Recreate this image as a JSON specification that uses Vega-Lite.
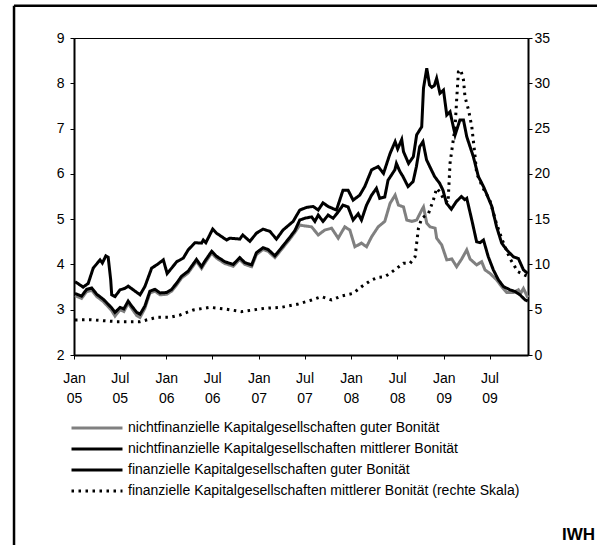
{
"$schema": "https://vega.github.io/schema/vega-lite/v6.json",
"width": 454, "height": 317,
"autosize": {"type": "none"},
"padding": {"left": 74, "top": 38, "right": 69, "bottom": 190},
"background": "white",
"title": {"text": "IWH", "orient": "bottom", "anchor": "end", "frame": "group", "fontSize": 17, "fontWeight": "bold", "font": "Liberation Sans", "color": "black", "dx": 67, "offset": -19},
"config": {
  "font": "Liberation Sans",
  "view": {"stroke": "black", "strokeWidth": 1},
  "axis": {"domainColor": "black", "domainWidth": 2, "tickColor": "black", "tickWidth": 1, "tickSize": 4, "labelFont": "Liberation Sans", "labelFontSize": 14, "labelColor": "black", "grid": false, "title": null}
},
"data": {"values": [
{"s":"G","d":"2005-01-05","v":3.31},{"s":"G","d":"2005-01-31","v":3.25},{"s":"G","d":"2005-02-20","v":3.40},{"s":"G","d":"2005-03-12","v":3.43},{"s":"G","d":"2005-04-01","v":3.29},{"s":"G","d":"2005-04-27","v":3.18},{"s":"G","d":"2005-05-30","v":2.98},{"s":"G","d":"2005-06-12","v":2.86},{"s":"G","d":"2005-07-02","v":3.00},{"s":"G","d":"2005-07-17","v":2.96},{"s":"G","d":"2005-08-03","v":3.14},{"s":"G","d":"2005-08-17","v":3.03},{"s":"G","d":"2005-09-06","v":2.87},{"s":"G","d":"2005-09-19","v":2.83},{"s":"G","d":"2005-10-08","v":3.03},{"s":"G","d":"2005-10-28","v":3.37},{"s":"G","d":"2005-11-17","v":3.41},{"s":"G","d":"2005-12-07","v":3.33},{"s":"G","d":"2006-01-02","v":3.34},{"s":"G","d":"2006-01-22","v":3.41},{"s":"G","d":"2006-02-11","v":3.55},{"s":"G","d":"2006-03-02","v":3.70},{"s":"G","d":"2006-03-28","v":3.81},{"s":"G","d":"2006-04-30","v":4.07},{"s":"G","d":"2006-05-20","v":3.91},{"s":"G","d":"2006-06-02","v":4.03},{"s":"G","d":"2006-06-29","v":4.25},{"s":"G","d":"2006-07-18","v":4.14},{"s":"G","d":"2006-08-20","v":4.02},{"s":"G","d":"2006-09-22","v":3.96},{"s":"G","d":"2006-10-18","v":4.11},{"s":"G","d":"2006-11-07","v":4.00},{"s":"G","d":"2006-12-04","v":3.95},{"s":"G","d":"2006-12-23","v":4.22},{"s":"G","d":"2007-01-18","v":4.33},{"s":"G","d":"2007-02-07","v":4.29},{"s":"G","d":"2007-03-06","v":4.15},{"s":"G","d":"2007-04-01","v":4.33},{"s":"G","d":"2007-05-04","v":4.56},{"s":"G","d":"2007-05-24","v":4.71},{"s":"G","d":"2007-06-12","v":4.87},{"s":"G","d":"2007-07-02","v":4.85},{"s":"G","d":"2007-07-29","v":4.83},{"s":"G","d":"2007-08-24","v":4.65},{"s":"G","d":"2007-09-19","v":4.76},{"s":"G","d":"2007-10-16","v":4.80},{"s":"G","d":"2007-11-11","v":4.58},{"s":"G","d":"2007-12-07","v":4.83},{"s":"G","d":"2007-12-27","v":4.76},{"s":"G","d":"2008-01-16","v":4.39},{"s":"G","d":"2008-02-11","v":4.47},{"s":"G","d":"2008-03-02","v":4.39},{"s":"G","d":"2008-03-22","v":4.61},{"s":"G","d":"2008-04-17","v":4.83},{"s":"G","d":"2008-05-13","v":4.95},{"s":"G","d":"2008-06-03","v":5.35},{"s":"G","d":"2008-06-23","v":5.53},{"s":"G","d":"2008-07-06","v":5.31},{"s":"G","d":"2008-07-26","v":5.27},{"s":"G","d":"2008-08-08","v":4.98},{"s":"G","d":"2008-08-28","v":4.95},{"s":"G","d":"2008-09-16","v":4.98},{"s":"G","d":"2008-10-06","v":5.20},{"s":"G","d":"2008-10-13","v":5.27},{"s":"G","d":"2008-10-26","v":4.91},{"s":"G","d":"2008-11-08","v":4.83},{"s":"G","d":"2008-11-28","v":4.80},{"s":"G","d":"2008-12-04","v":4.58},{"s":"G","d":"2008-12-24","v":4.43},{"s":"G","d":"2009-01-13","v":4.10},{"s":"G","d":"2009-02-02","v":4.12},{"s":"G","d":"2009-02-21","v":3.95},{"s":"G","d":"2009-03-13","v":4.12},{"s":"G","d":"2009-04-02","v":4.32},{"s":"G","d":"2009-04-15","v":4.12},{"s":"G","d":"2009-05-11","v":3.99},{"s":"G","d":"2009-05-31","v":4.06},{"s":"G","d":"2009-06-13","v":3.88},{"s":"G","d":"2009-07-03","v":3.80},{"s":"G","d":"2009-07-29","v":3.66},{"s":"G","d":"2009-08-18","v":3.51},{"s":"G","d":"2009-09-07","v":3.38},{"s":"G","d":"2009-10-03","v":3.38},{"s":"G","d":"2009-10-23","v":3.44},{"s":"G","d":"2009-11-01","v":3.36},{"s":"G","d":"2009-11-12","v":3.47},{"s":"G","d":"2009-11-29","v":3.27},
{"s":"B","d":"2005-01-05","v":3.62},{"s":"B","d":"2005-02-06","v":3.50},{"s":"B","d":"2005-02-26","v":3.58},{"s":"B","d":"2005-03-18","v":3.92},{"s":"B","d":"2005-04-14","v":4.10},{"s":"B","d":"2005-04-23","v":4.03},{"s":"B","d":"2005-05-07","v":4.19},{"s":"B","d":"2005-05-16","v":4.16},{"s":"B","d":"2005-05-26","v":3.66},{"s":"B","d":"2005-05-30","v":3.33},{"s":"B","d":"2005-06-12","v":3.29},{"s":"B","d":"2005-07-02","v":3.44},{"s":"B","d":"2005-07-21","v":3.47},{"s":"B","d":"2005-08-03","v":3.52},{"s":"B","d":"2005-08-23","v":3.44},{"s":"B","d":"2005-09-19","v":3.33},{"s":"B","d":"2005-10-08","v":3.51},{"s":"B","d":"2005-11-04","v":3.92},{"s":"B","d":"2005-11-24","v":3.99},{"s":"B","d":"2005-12-20","v":4.10},{"s":"B","d":"2006-01-04","v":3.80},{"s":"B","d":"2006-01-22","v":3.92},{"s":"B","d":"2006-02-11","v":4.06},{"s":"B","d":"2006-03-09","v":4.14},{"s":"B","d":"2006-03-28","v":4.32},{"s":"B","d":"2006-04-24","v":4.48},{"s":"B","d":"2006-05-20","v":4.47},{"s":"B","d":"2006-05-27","v":4.54},{"s":"B","d":"2006-06-06","v":4.48},{"s":"B","d":"2006-07-03","v":4.78},{"s":"B","d":"2006-07-18","v":4.69},{"s":"B","d":"2006-08-27","v":4.54},{"s":"B","d":"2006-09-09","v":4.58},{"s":"B","d":"2006-10-18","v":4.56},{"s":"B","d":"2006-10-30","v":4.65},{"s":"B","d":"2006-11-27","v":4.51},{"s":"B","d":"2006-12-23","v":4.69},{"s":"B","d":"2007-01-18","v":4.78},{"s":"B","d":"2007-02-14","v":4.73},{"s":"B","d":"2007-03-12","v":4.56},{"s":"B","d":"2007-04-07","v":4.76},{"s":"B","d":"2007-05-17","v":4.95},{"s":"B","d":"2007-06-12","v":5.20},{"s":"B","d":"2007-07-09","v":5.26},{"s":"B","d":"2007-08-04","v":5.28},{"s":"B","d":"2007-08-24","v":5.20},{"s":"B","d":"2007-09-12","v":5.36},{"s":"B","d":"2007-10-02","v":5.28},{"s":"B","d":"2007-11-04","v":5.20},{"s":"B","d":"2007-11-30","v":5.64},{"s":"B","d":"2007-12-20","v":5.64},{"s":"B","d":"2008-01-09","v":5.42},{"s":"B","d":"2008-02-04","v":5.53},{"s":"B","d":"2008-02-24","v":5.72},{"s":"B","d":"2008-03-22","v":6.09},{"s":"B","d":"2008-04-17","v":6.16},{"s":"B","d":"2008-05-08","v":6.01},{"s":"B","d":"2008-06-03","v":6.45},{"s":"B","d":"2008-06-23","v":6.71},{"s":"B","d":"2008-07-03","v":6.55},{"s":"B","d":"2008-07-19","v":6.76},{"s":"B","d":"2008-07-26","v":6.49},{"s":"B","d":"2008-08-15","v":6.23},{"s":"B","d":"2008-09-03","v":6.38},{"s":"B","d":"2008-09-16","v":6.86},{"s":"B","d":"2008-10-06","v":7.04},{"s":"B","d":"2008-10-13","v":7.89},{"s":"B","d":"2008-10-26","v":8.33},{"s":"B","d":"2008-11-06","v":7.96},{"s":"B","d":"2008-11-15","v":7.91},{"s":"B","d":"2008-11-25","v":7.95},{"s":"B","d":"2008-12-04","v":8.11},{"s":"B","d":"2008-12-17","v":7.78},{"s":"B","d":"2008-12-31","v":7.85},{"s":"B","d":"2009-01-13","v":7.30},{"s":"B","d":"2009-01-26","v":7.37},{"s":"B","d":"2009-02-15","v":6.86},{"s":"B","d":"2009-03-06","v":7.19},{"s":"B","d":"2009-03-20","v":7.19},{"s":"B","d":"2009-04-02","v":6.82},{"s":"B","d":"2009-04-28","v":6.38},{"s":"B","d":"2009-05-18","v":5.94},{"s":"B","d":"2009-06-07","v":5.72},{"s":"B","d":"2009-06-20","v":5.55},{"s":"B","d":"2009-07-10","v":5.28},{"s":"B","d":"2009-07-29","v":4.83},{"s":"B","d":"2009-08-18","v":4.47},{"s":"B","d":"2009-09-07","v":4.32},{"s":"B","d":"2009-10-03","v":4.17},{"s":"B","d":"2009-10-23","v":4.13},{"s":"B","d":"2009-11-12","v":3.88},{"s":"B","d":"2009-11-29","v":3.80},
{"s":"T","d":"2005-01-05","v":3.36},{"s":"T","d":"2005-01-31","v":3.30},{"s":"T","d":"2005-02-20","v":3.45},{"s":"T","d":"2005-03-12","v":3.48},{"s":"T","d":"2005-04-01","v":3.34},{"s":"T","d":"2005-04-27","v":3.23},{"s":"T","d":"2005-05-30","v":3.04},{"s":"T","d":"2005-06-12","v":2.94},{"s":"T","d":"2005-07-02","v":3.05},{"s":"T","d":"2005-07-17","v":3.02},{"s":"T","d":"2005-08-03","v":3.19},{"s":"T","d":"2005-08-17","v":3.08},{"s":"T","d":"2005-09-06","v":2.94},{"s":"T","d":"2005-09-19","v":2.90},{"s":"T","d":"2005-10-08","v":3.08},{"s":"T","d":"2005-10-28","v":3.41},{"s":"T","d":"2005-11-17","v":3.45},{"s":"T","d":"2005-12-07","v":3.37},{"s":"T","d":"2006-01-02","v":3.38},{"s":"T","d":"2006-01-22","v":3.45},{"s":"T","d":"2006-02-11","v":3.59},{"s":"T","d":"2006-03-02","v":3.74},{"s":"T","d":"2006-03-28","v":3.85},{"s":"T","d":"2006-04-30","v":4.11},{"s":"T","d":"2006-05-20","v":3.95},{"s":"T","d":"2006-06-02","v":4.07},{"s":"T","d":"2006-06-29","v":4.29},{"s":"T","d":"2006-07-18","v":4.18},{"s":"T","d":"2006-08-20","v":4.06},{"s":"T","d":"2006-09-22","v":4.00},{"s":"T","d":"2006-10-18","v":4.15},{"s":"T","d":"2006-11-07","v":4.04},{"s":"T","d":"2006-12-04","v":3.99},{"s":"T","d":"2006-12-23","v":4.26},{"s":"T","d":"2007-01-18","v":4.37},{"s":"T","d":"2007-02-07","v":4.33},{"s":"T","d":"2007-03-06","v":4.19},{"s":"T","d":"2007-04-01","v":4.37},{"s":"T","d":"2007-05-04","v":4.60},{"s":"T","d":"2007-05-24","v":4.75},{"s":"T","d":"2007-06-12","v":4.98},{"s":"T","d":"2007-07-02","v":5.02},{"s":"T","d":"2007-07-29","v":5.05},{"s":"T","d":"2007-08-11","v":4.95},{"s":"T","d":"2007-08-24","v":5.09},{"s":"T","d":"2007-09-12","v":4.95},{"s":"T","d":"2007-10-02","v":5.09},{"s":"T","d":"2007-10-22","v":5.02},{"s":"T","d":"2007-11-11","v":5.16},{"s":"T","d":"2007-11-30","v":5.31},{"s":"T","d":"2007-12-20","v":5.27},{"s":"T","d":"2008-01-09","v":4.98},{"s":"T","d":"2008-01-29","v":5.12},{"s":"T","d":"2008-02-11","v":4.98},{"s":"T","d":"2008-03-02","v":5.31},{"s":"T","d":"2008-03-22","v":5.53},{"s":"T","d":"2008-04-10","v":5.68},{"s":"T","d":"2008-04-23","v":5.46},{"s":"T","d":"2008-05-13","v":5.49},{"s":"T","d":"2008-05-26","v":5.86},{"s":"T","d":"2008-06-22","v":6.09},{"s":"T","d":"2008-06-28","v":6.23},{"s":"T","d":"2008-07-11","v":6.06},{"s":"T","d":"2008-07-24","v":5.94},{"s":"T","d":"2008-08-13","v":5.72},{"s":"T","d":"2008-09-02","v":5.83},{"s":"T","d":"2008-09-15","v":6.16},{"s":"T","d":"2008-09-28","v":6.60},{"s":"T","d":"2008-10-11","v":6.71},{"s":"T","d":"2008-10-25","v":6.31},{"s":"T","d":"2008-11-13","v":6.09},{"s":"T","d":"2008-11-26","v":5.94},{"s":"T","d":"2008-12-16","v":5.79},{"s":"T","d":"2008-12-29","v":5.64},{"s":"T","d":"2009-01-12","v":5.35},{"s":"T","d":"2009-01-31","v":5.22},{"s":"T","d":"2009-02-20","v":5.39},{"s":"T","d":"2009-03-12","v":5.50},{"s":"T","d":"2009-03-25","v":5.43},{"s":"T","d":"2009-04-02","v":5.46},{"s":"T","d":"2009-04-22","v":4.98},{"s":"T","d":"2009-05-11","v":4.50},{"s":"T","d":"2009-05-24","v":4.48},{"s":"T","d":"2009-06-07","v":4.54},{"s":"T","d":"2009-06-26","v":4.17},{"s":"T","d":"2009-07-16","v":3.88},{"s":"T","d":"2009-08-05","v":3.66},{"s":"T","d":"2009-08-25","v":3.51},{"s":"T","d":"2009-09-20","v":3.44},{"s":"T","d":"2009-10-10","v":3.40},{"s":"T","d":"2009-10-29","v":3.33},{"s":"T","d":"2009-11-18","v":3.22},{"s":"T","d":"2009-11-29","v":3.19},
{"s":"D","d":"2005-01-05","v":3.87},{"s":"D","d":"2005-03-05","v":3.90},{"s":"D","d":"2005-06-19","v":3.68},{"s":"D","d":"2005-09-19","v":3.68},{"s":"D","d":"2005-11-24","v":4.16},{"s":"D","d":"2006-01-15","v":4.16},{"s":"D","d":"2006-02-24","v":4.42},{"s":"D","d":"2006-04-17","v":4.97},{"s":"D","d":"2006-06-22","v":5.27},{"s":"D","d":"2006-08-27","v":5.05},{"s":"D","d":"2006-10-25","v":4.79},{"s":"D","d":"2007-01-25","v":5.16},{"s":"D","d":"2007-04-01","v":5.27},{"s":"D","d":"2007-06-06","v":5.63},{"s":"D","d":"2007-07-29","v":6.07},{"s":"D","d":"2007-09-06","v":6.44},{"s":"D","d":"2007-10-16","v":6.07},{"s":"D","d":"2007-11-24","v":6.51},{"s":"D","d":"2008-01-09","v":6.81},{"s":"D","d":"2008-02-11","v":7.54},{"s":"D","d":"2008-03-22","v":8.28},{"s":"D","d":"2008-04-17","v":8.58},{"s":"D","d":"2008-05-13","v":8.65},{"s":"D","d":"2008-06-03","v":9.02},{"s":"D","d":"2008-06-29","v":9.57},{"s":"D","d":"2008-07-26","v":10.12},{"s":"D","d":"2008-08-21","v":10.12},{"s":"D","d":"2008-09-10","v":10.85},{"s":"D","d":"2008-09-16","v":12.33},{"s":"D","d":"2008-09-23","v":13.99},{"s":"D","d":"2008-10-06","v":15.09},{"s":"D","d":"2008-11-02","v":15.64},{"s":"D","d":"2008-11-21","v":17.11},{"s":"D","d":"2008-12-04","v":18.41},{"s":"D","d":"2008-12-17","v":18.0},{"s":"D","d":"2009-01-01","v":17.2},{"s":"D","d":"2009-01-18","v":16.8},{"s":"D","d":"2009-01-26","v":21.2},{"s":"D","d":"2009-02-15","v":25.2},{"s":"D","d":"2009-02-21","v":28.15},{"s":"D","d":"2009-02-28","v":31.28},{"s":"D","d":"2009-03-09","v":31.5},{"s":"D","d":"2009-03-20","v":30.36},{"s":"D","d":"2009-03-26","v":28.5},{"s":"D","d":"2009-04-09","v":27.05},{"s":"D","d":"2009-04-22","v":25.2},{"s":"D","d":"2009-05-05","v":21.9},{"s":"D","d":"2009-05-11","v":20.06},{"s":"D","d":"2009-06-04","v":18.5},{"s":"D","d":"2009-07-02","v":17.1},{"s":"D","d":"2009-07-28","v":14.54},{"s":"D","d":"2009-08-23","v":12.51},{"s":"D","d":"2009-09-19","v":10.68},{"s":"D","d":"2009-10-21","v":9.2},{"s":"D","d":"2009-11-17","v":8.83},{"s":"D","d":"2009-11-29","v":8.7}
]},
"layer": [
  {"layer": [
    {"data": {"values": [{"a":"2004-05-09","b":"2004-05-09","c":-2.195,"e":9.713},{"a":"2004-05-09","b":"2011-06-01","c":9.713,"e":9.713}]},
     "mark": {"type": "rule", "color": "black", "strokeWidth": 2.5},
     "encoding": {"x": {"field": "a", "type": "temporal", "scale": {"domain": [{"year":2005,"month":1,"date":1},{"year":2009,"month":11,"date":30}]}}, "x2": {"field": "b"}, "y": {"field": "c", "type": "quantitative", "scale": {"domain": [2, 9]}}, "y2": {"field": "e"}}},
    {"transform": [{"filter": "datum.s != 'D'"}],
     "mark": {"type": "line"},
     "encoding": {
       "x": {"field": "d", "type": "temporal", "scale": {"domain": [{"year":2005,"month":1,"date":1},{"year":2009,"month":11,"date":30}]},
             "axis": {"tickCount": {"interval": "month", "step": 6}, "labelExpr": "[timeFormat(datum.value,'%b'), timeFormat(datum.value,'%y')]", "labelPadding": 12, "labelLineHeight": 20, "labelFlush": false, "labelOverlap": false}},
       "y": {"field": "v", "type": "quantitative", "scale": {"domain": [2, 9]}, "axis": {"orient": "left", "values": [2,3,4,5,6,7,8,9], "labelPadding": 6}},
       "color": {"field": "s", "type": "nominal", "scale": {"domain": ["G","B","T","D"], "range": ["#808080","#000000","#000000","#000000"]},
                 "legend": {"orient": "none", "legendX": 16, "legendY": 383, "direction": "vertical", "title": null, "labelFontSize": 14, "labelColor": "black", "labelFont": "Liberation Sans", "symbolType": "M-10,0H10", "symbolSize": 26, "labelOffset": 24, "rowPadding": 7, "labelLimit": 0,
                   "labelExpr": "{'G':'nichtfinanzielle Kapitalgesellschaften guter Bonität','B':'nichtfinanzielle Kapitalgesellschaften mittlerer Bonität','T':'finanzielle Kapitalgesellschaften guter Bonität','D':'finanzielle Kapitalgesellschaften mittlerer Bonität (rechte Skala)'}[datum.value]",
                   "encode": {"symbols": {"update": {"strokeWidth": {"signal": "datum.value === 'T' ? 1 : (datum.value === 'D' ? 2 : 3)"}}}}}},
       "strokeWidth": {"field": "s", "type": "nominal", "scale": {"domain": ["G","B","T","D"], "range": [3, 3, 1, 2]}},
       "strokeDash": {"field": "s", "type": "nominal", "scale": {"domain": ["G","B","T","D"], "range": [[1,0],[1,0],[1,0],[2.5,4.5]]}}
     }}
  ]},
  {"transform": [{"filter": "datum.s == 'D'"}],
   "mark": {"type": "line"},
   "encoding": {
     "x": {"field": "d", "type": "temporal"},
     "y": {"field": "v", "type": "quantitative", "scale": {"domain": [0, 35]}, "axis": {"orient": "right", "values": [0,5,10,15,20,25,30,35], "labelPadding": 2}},
     "color": {"field": "s", "type": "nominal"},
     "strokeWidth": {"field": "s", "type": "nominal"},
     "strokeDash": {"field": "s", "type": "nominal"}
   }}
],
"resolve": {"scale": {"y": "independent"}}
}
